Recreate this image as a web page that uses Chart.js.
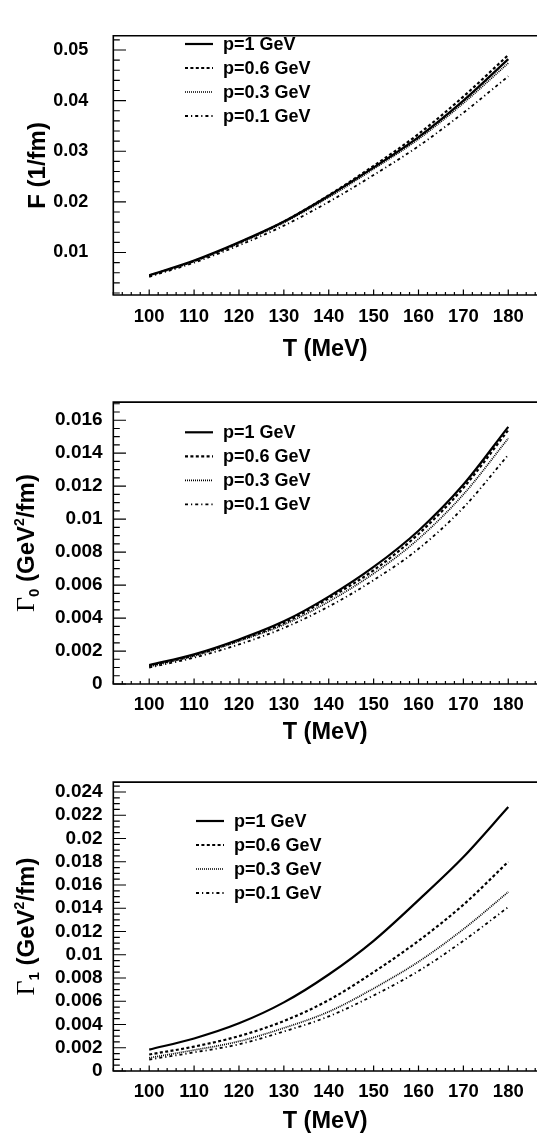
<!DOCTYPE html>
<html><head><meta charset="utf-8">
<script src="https://cdn.jsdelivr.net/npm/chart.js@4.4.1/dist/chart.umd.min.js"></script>
<style>
html,body{margin:0;padding:0;background:#fff;}
#wrap{position:relative;width:537px;height:1141px;overflow:hidden;background:#fff;}
canvas{position:absolute;left:0;}
</style></head><body>
<div id="wrap">
<canvas id="c1" width="537" height="380" style="top:0px"></canvas>
<canvas id="c2" width="537" height="380" style="top:380px"></canvas>
<canvas id="c3" width="537" height="381" style="top:760px"></canvas>
</div>
<script>
// ---------------- data ----------------
const temperatures = [100, 110, 120, 130, 140, 150, 160, 170, 180];
const seriesLabels = ['p=1 GeV', 'p=0.6 GeV', 'p=0.3 GeV', 'p=0.1 GeV'];

const F_p1  = [0.0055, 0.0084, 0.0120, 0.0161, 0.0212, 0.0268, 0.0328, 0.0400, 0.0482];
const F_p06 = [0.0054, 0.0083, 0.0119, 0.0161, 0.0213, 0.0271, 0.0334, 0.0408, 0.0490];
const F_p03 = [0.0054, 0.0083, 0.0118, 0.0159, 0.0209, 0.0265, 0.0324, 0.0395, 0.0474];
const F_p01 = [0.0052, 0.0080, 0.0114, 0.0153, 0.0200, 0.0253, 0.0310, 0.0376, 0.0448];

const G0_p1  = [0.00115, 0.0018, 0.0027, 0.0038, 0.0053, 0.0071, 0.0093, 0.0121, 0.0156];
const G0_p06 = [0.00110, 0.00175, 0.00265, 0.0037, 0.0052, 0.0069, 0.0091, 0.0119, 0.0154];
const G0_p03 = [0.00105, 0.0017, 0.0026, 0.0036, 0.0050, 0.0067, 0.0088, 0.0115, 0.0149];
const G0_p01 = [0.00100, 0.0016, 0.0024, 0.0034, 0.0047, 0.0063, 0.0082, 0.0107, 0.0139];

const G1_p1  = [0.00184, 0.0028, 0.0041, 0.0059, 0.0083, 0.0112, 0.0147, 0.0184, 0.0227];
const G1_p06 = [0.00142, 0.0021, 0.0030, 0.0043, 0.0061, 0.0085, 0.0112, 0.0143, 0.0180];
const G1_p03 = [0.00113, 0.0018, 0.00255, 0.0037, 0.0051, 0.0071, 0.0094, 0.0122, 0.0154];
const G1_p01 = [0.00099, 0.0016, 0.0023, 0.0034, 0.0047, 0.0065, 0.0086, 0.0112, 0.0141];

const xTickLabels = [100, 110, 120, 130, 140, 150, 160, 170, 180];
const yTicksF  = [0.01, 0.02, 0.03, 0.04, 0.05];
const yTicksG0 = [0, 0.002, 0.004, 0.006, 0.008, 0.01, 0.012, 0.014, 0.016];
const yTicksG1 = [0, 0.002, 0.004, 0.006, 0.008, 0.01, 0.012, 0.014, 0.016, 0.018, 0.02, 0.022, 0.024];

const xTitle = 'T (MeV)';
const yTitleF  = [{text: 'F (1/fm)', kind: 'main'}];
const yTitleG0 = [{text: 'Γ', kind: 'greek'}, {text: '0', kind: 'sub'}, {text: ' (GeV', kind: 'main'}, {text: '2', kind: 'sup'}, {text: '/fm)', kind: 'main'}];
const yTitleG1 = [{text: 'Γ', kind: 'greek'}, {text: '1', kind: 'sub'}, {text: ' (GeV', kind: 'main'}, {text: '2', kind: 'sup'}, {text: '/fm)', kind: 'main'}];

// ---------------- styles ----------------
const SANS = '"Liberation Sans", Arial, Helvetica, sans-serif';
const lineStyles = [
  {dash: [], width: 2.2},
  {dash: [3, 2.4], width: 2.2},
  {dash: [1, 1], width: 1.7},
  {dash: [3, 3, 1.2, 3], width: 1.8}
];
const segFonts = {
  main: {font: 'bold 24px ' + SANS, dy: 0},
  greek: {font: '26px "Liberation Serif", "Times New Roman", serif', dy: 0},
  sub: {font: 'bold 15px ' + SANS, dy: 5},
  sup: {font: 'bold 14px ' + SANS, dy: -10}
};

function drawRichVertical(ctx, segs, bx, cy) {
  let total = 0;
  const items = segs.map(s => {
    const f = segFonts[s.kind];
    ctx.font = f.font;
    const w = ctx.measureText(s.text).width;
    total += w;
    return {text: s.text, font: f.font, dy: f.dy, w};
  });
  ctx.save();
  ctx.translate(bx, cy);
  ctx.rotate(-Math.PI / 2);
  ctx.fillStyle = '#000';
  ctx.textBaseline = 'alphabetic';
  ctx.textAlign = 'left';
  let x = -total / 2;
  items.forEach(it => { ctx.font = it.font; ctx.fillText(it.text, x, it.dy); x += it.w; });
  ctx.restore();
}

const rootStyle = {
  id: 'rootStyle',
  afterDatasetsDraw(chart, args, opts) {
    const ctx = chart.ctx;
    const xs = chart.scales.x, ys = chart.scales.y;
    const ca = chart.chartArea;
    ctx.save();
    ctx.strokeStyle = '#000';
    ctx.setLineDash([]);
    // frame
    ctx.lineWidth = 1.6;
    ctx.beginPath();
    ctx.moveTo(ca.right + 2, ca.top); ctx.lineTo(ca.left, ca.top);
    ctx.lineTo(ca.left, ca.bottom); ctx.lineTo(ca.right + 2, ca.bottom);
    ctx.stroke();
    // x ticks (inward)
    ctx.lineWidth = 1.2;
    ctx.beginPath();
    for (let v = Math.ceil(xs.min / 2) * 2; v <= xs.max; v += 2) {
      const px = xs.getPixelForValue(v);
      const len = (v % 10 === 0) ? 5.5 : 3;
      ctx.moveTo(px, ca.bottom); ctx.lineTo(px, ca.bottom - len);
    }
    ctx.stroke();
    // y ticks (inward)
    ctx.beginPath();
    const step = opts.yMinor;
    const n0 = Math.ceil(ys.min / step - 1e-6), n1 = Math.floor(ys.max / step + 1e-6);
    for (let k = n0; k <= n1; k++) {
      const v = k * step;
      const py = ys.getPixelForValue(v);
      const isMajor = opts.yMajor.some(m => Math.abs(m - v) < step * 0.01);
      const len = isMajor ? 12.7 : 6.5;
      ctx.moveTo(ca.left, py); ctx.lineTo(ca.left + len, py);
    }
    ctx.stroke();
    // legend
    const lg = opts.legend;
    chart.data.datasets.forEach((ds, i) => {
      const y = lg.rows[i];
      ctx.beginPath();
      ctx.lineWidth = ds.borderWidth;
      ctx.setLineDash(ds.borderDash || []);
      ctx.moveTo(lg.x0, y); ctx.lineTo(lg.x1, y);
      ctx.stroke();
      ctx.setLineDash([]);
      ctx.fillStyle = '#000';
      ctx.font = 'bold 18px ' + SANS;
      ctx.textBaseline = 'middle';
      ctx.textAlign = 'left';
      ctx.fillText(ds.label, lg.tx, y + 1);
    });
    // y title
    drawRichVertical(ctx, opts.yTitle, opts.yTitleX, (ca.top + ca.bottom) / 2);
    ctx.restore();
  }
};

function makePanel(id, series, yTicks, yTitle, P) {
  const canvas = document.getElementById(id);
  const datasets = series.map((vals, i) => ({
    label: seriesLabels[i],
    data: temperatures.map((t, j) => ({x: t, y: vals[j]})),
    borderColor: '#000',
    borderWidth: lineStyles[i].width,
    borderDash: lineStyles[i].dash,
    pointRadius: 0,
    fill: false,
    cubicInterpolationMode: 'monotone'
  }));
  return new Chart(canvas, {
    type: 'line',
    data: {datasets},
    plugins: [rootStyle],
    options: {
      responsive: false,
      animation: false,
      devicePixelRatio: 1,
      layout: {padding: {top: P.top, left: 0, right: 0, bottom: 0}},
      plugins: {
        legend: {display: false},
        tooltip: {enabled: false},
        rootStyle: {yMinor: P.yMinor, yMajor: yTicks, legend: P.legend, yTitle: yTitle, yTitleX: P.yTitleX}
      },
      scales: {
        x: {
          type: 'linear', position: 'bottom', min: 92, max: 186.4,
          afterFit: s => { s.height = P.h - P.bottom; },
          afterBuildTicks: s => { s.ticks = xTickLabels.map(v => ({value: v})); },
          grid: {display: false, drawTicks: false},
          border: {display: false},
          ticks: {color: '#000', font: {family: SANS, size: 18.5, weight: 'bold'}, padding: P.xLabPad, maxRotation: 0, autoSkip: false,
                  callback: v => String(v)},
          title: {display: true, text: xTitle, color: '#000', font: {family: SANS, size: 23.5, weight: 'bold'}, padding: {top: 0, bottom: P.xTitlePad}}
        },
        y: {
          type: 'linear', position: 'left', min: P.ymin, max: P.ymax,
          afterFit: s => { s.width = 113.3; },
          afterBuildTicks: s => { s.ticks = yTicks.map(v => ({value: v})); },
          grid: {display: false, drawTicks: false},
          border: {display: false},
          ticks: {color: '#000', font: {family: SANS, size: P.yFont, weight: 'bold'}, padding: P.yLabPad, autoSkip: false,
                  callback: v => String(v)}
        }
      }
    }
  });
}

makePanel('c1', [F_p1, F_p06, F_p03, F_p01], yTicksF, yTitleF, {
  h: 380, top: 5, bottom: 295, ymin: 0.0016, ymax: 0.0528, yMinor: 0.002,
  yFont: 18, yLabPad: 25, xLabPad: 11, xTitlePad: 16, yTitleX: 45,
  legend: {x0: 185, x1: 213, tx: 223, rows: [44, 68, 92, 116]}
});
makePanel('c2', [G0_p1, G0_p06, G0_p03, G0_p01], yTicksG0, yTitleG0, {
  h: 380, top: 13.2, bottom: 304, ymin: 0, ymax: 0.0171, yMinor: 0.0005,
  yFont: 19, yLabPad: 10.7, xLabPad: 10, xTitlePad: 13, yTitleX: 34,
  legend: {x0: 185, x1: 213, tx: 223, rows: [52.3, 76.3, 100.3, 124.3]}
});
makePanel('c3', [G1_p1, G1_p06, G1_p03, G1_p01], yTicksG1, yTitleG1, {
  h: 381, top: 20.7, bottom: 311, ymin: 0, ymax: 0.02485, yMinor: 0.0005,
  yFont: 19, yLabPad: 10.7, xLabPad: 10, xTitlePad: 5, yTitleX: 34,
  legend: {x0: 196, x1: 224, tx: 234, rows: [61, 85, 109, 133]}
});
</script>
</body></html>
